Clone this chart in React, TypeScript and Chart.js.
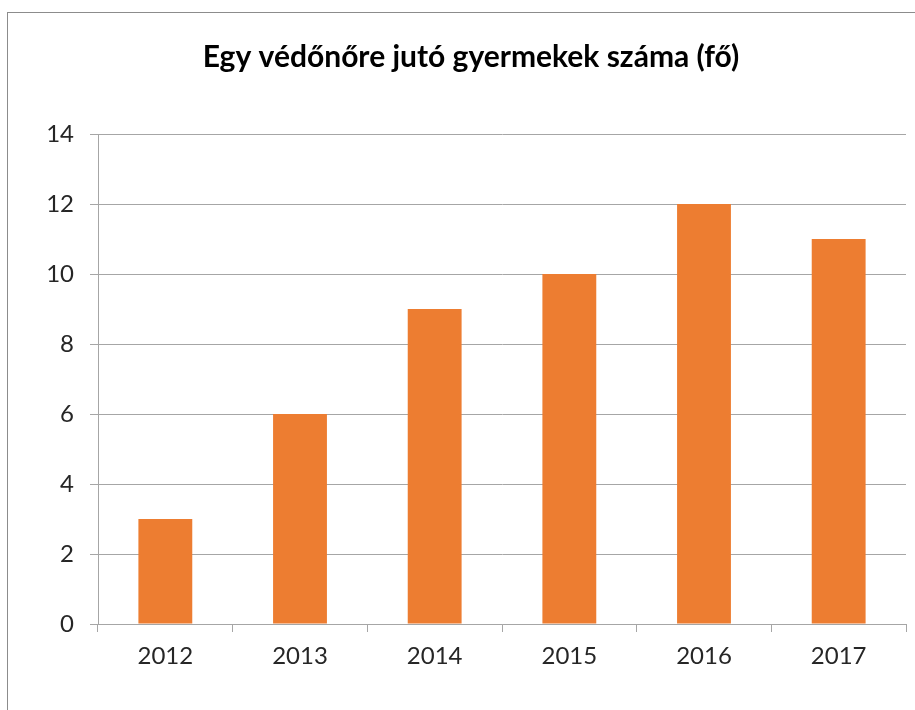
import React, { useEffect, useRef } from "react";
import { Chart, registerables } from "chart.js";

Chart.register(...registerables);

const TITLE = "Egy védőnőre jutó gyermekek száma (fő)";
const YEARS = ["2012", "2013", "2014", "2015", "2016", "2017"];
const VALUES = [3, 6, 9, 10, 12, 11];
const Y_MIN = 0;
const Y_MAX = 14;
const Y_STEP = 2;

const FONT = "Lato, 'Open Sans', sans-serif";

const framePlugin = {
  id: "frame",
  beforeDraw(chart: any) {
    const ctx = chart.ctx;
    ctx.save();
    ctx.fillStyle = "#ffffff";
    ctx.fillRect(0, 0, chart.width, chart.height);
    ctx.strokeStyle = "#8c8c8c";
    ctx.lineWidth = 1;
    ctx.strokeRect(7.5, 12.5, 1200, 1200);
    ctx.restore();
  },
  afterDraw(chart: any) {
    const ctx = chart.ctx;
    ctx.save();
    ctx.fillStyle = "#000000";
    ctx.font = `bold 30px ${FONT}`;
    ctx.textAlign = "center";
    ctx.textBaseline = "middle";
    ctx.fillText(TITLE, 471, 57);
    ctx.restore();
  },
};

export default function App() {
  const ref = useRef<HTMLCanvasElement>(null);
  useEffect(() => {
    if (!ref.current) return;
    const chart = new Chart(ref.current, {
      type: "bar",
      data: {
        labels: YEARS,
        datasets: [
          {
            data: VALUES,
            backgroundColor: "#ED7D31",
            borderWidth: 0,
            barPercentage: 0.4,
            categoryPercentage: 1,
          },
        ],
      },
      options: {
        responsive: false,
        animation: false,
        devicePixelRatio: 1,
        layout: { padding: { top: 134, right: 9, left: 0, bottom: 0 } },
        plugins: {
          legend: { display: false },
          title: { display: false },
          tooltip: { enabled: false },
        },
        scales: {
          x: {
            grid: {
              display: true,
              drawOnChartArea: false,
              drawTicks: true,
              tickLength: 8,
              color: "#a6a6a6",
              offset: true,
            },
            border: { display: true, color: "#a6a6a6", width: 1 },
            ticks: {
              color: "#262626",
              font: { family: FONT, size: 24 },
              padding: 10,
            },
            afterFit(scale: any) {
              scale.height = 86;
            },
          },
          y: {
            min: Y_MIN,
            max: Y_MAX,
            grid: {
              color: "#a6a6a6",
              tickLength: 8,
              drawTicks: true,
            },
            border: { display: true, color: "#a6a6a6", width: 1 },
            ticks: {
              stepSize: Y_STEP,
              color: "#262626",
              font: { family: FONT, size: 24 },
              padding: 16,
            },
            afterFit(scale: any) {
              scale.width = 98;
            },
          },
        },
      },
      plugins: [framePlugin],
    });
    return () => chart.destroy();
  }, []);
  return (
    <div style={{ position: "absolute", left: 0, top: 0, width: 915, height: 710 }}>
      <canvas ref={ref} width={915} height={710} style={{ width: 915, height: 710, display: "block" }} />
    </div>
  );
}
